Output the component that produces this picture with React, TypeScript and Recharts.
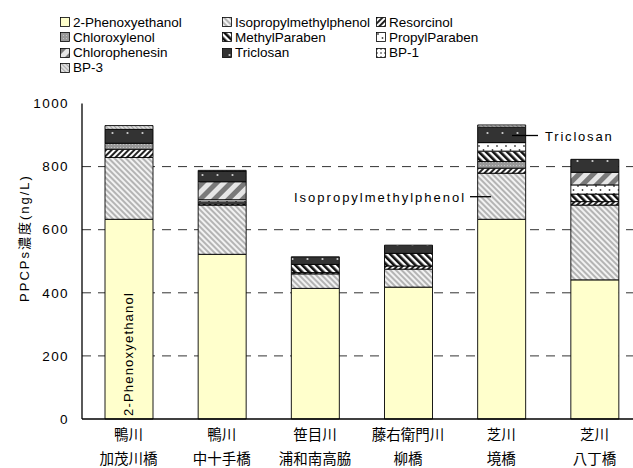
import React from 'react';
import { BarChart, Bar, XAxis, YAxis, CartesianGrid, Legend } from 'recharts';

const rivers = ['鴨川', '鴨川', '笹目川', '藤右衛門川', '芝川', '芝川'];
const sites = ['加茂川橋', '中十手橋', '浦和南高脇', '柳橋', '境橋', '八丁橋'];

const seriesNames = [
  '2-Phenoxyethanol',
  'Isopropylmethylphenol',
  'Resorcinol',
  'Chloroxylenol',
  'MethylParaben',
  'PropylParaben',
  'Chlorophenesin',
  'Triclosan',
  'BP-1',
  'BP-3',
];

const phenoxyethanol = [633, 522, 414, 418, 633, 441];
const isopropylmethylphenol = [196, 156, 46, 57, 146, 237];
const resorcinol = [26, 4, 4, 10, 16, 11];
const chloroxylenol = [19, 6, 0, 0, 21, 0];
const methylParaben = [0, 0, 26, 40, 33, 24];
const propylParaben = [0, 7, 0, 0, 27, 29];
const chlorophenesin = [0, 57, 0, 0, 0, 40];
const triclosan = [44, 33, 24, 26, 49, 41];
const bp1 = [0, 0, 0, 0, 0, 0];
const bp3 = [12, 3, 0, 0, 7, 0];

const yTicks = [0, 200, 400, 600, 800, 1000];
const gridValues = [200, 400, 600, 800];

const seriesKeys = ['s0', 's1', 's2', 's3', 's4', 's5', 's6', 's7', 's8', 's9'];
const seriesValues = [
  phenoxyethanol,
  isopropylmethylphenol,
  resorcinol,
  chloroxylenol,
  methylParaben,
  propylParaben,
  chlorophenesin,
  triclosan,
  bp1,
  bp3,
];
const fills = [
  '#FFFFCC',
  'url(#pIso)',
  'url(#pRes)',
  'url(#pChx)',
  'url(#pMeth)',
  'url(#pProp)',
  'url(#pChp)',
  'url(#pTri)',
  'url(#pBp1)',
  'url(#pBp3)',
];

const data = sites.map((s, i) => {
  const row: any = { site: s, river: rivers[i] };
  seriesKeys.forEach((k, j) => {
    row[k] = seriesValues[j][i];
  });
  return row;
});

const LATIN = "'Liberation Sans', Arial, 'Noto Sans CJK JP', sans-serif";
const CJK = "'Noto Sans CJK JP', 'Liberation Sans', sans-serif";

const XTick = (props: any) => {
  const { x, y, payload } = props;
  const i = payload.index;
  return (
    <g>
      <text x={x} y={y} dy={20.5} textAnchor="middle" fontFamily={CJK} fontSize={14.5} fill="#000">
        {rivers[i]}
      </text>
      <text x={x} y={y} dy={45} textAnchor="middle" fontFamily={CJK} fontSize={14.5} fill="#000">
        {sites[i]}
      </text>
    </g>
  );
};

const renderLegend = () => {
  const colX = [60, 222, 376];
  return (
    <div style={{ position: 'relative', width: 633, height: 0 }}>
      {seriesNames.map((n, i) => {
        const col = i % 3;
        const row = Math.floor(i / 3);
        const cy = 22 + row * 15.3;
        return (
          <div
            key={n}
            style={{
              position: 'absolute',
              left: colX[col],
              top: cy - 8,
              height: 16,
              display: 'flex',
              alignItems: 'center',
              whiteSpace: 'nowrap',
              fontFamily: LATIN,
              fontSize: 13.5,
              color: '#000',
            }}
          >
            <svg width={10} height={10} style={{ marginRight: 3 }}>
              <rect x={0.5} y={0.5} width={9} height={9} fill={fills[i]} stroke="#000" strokeWidth={0.8} />
            </svg>
            <span>{n}</span>
          </div>
        );
      })}
    </div>
  );
};

const Overlay = () => (
  <svg
    width={633}
    height={468}
    style={{ position: 'absolute', left: 0, top: 0, pointerEvents: 'none' }}
  >
    <g fontFamily={LATIN} fontSize={13} fill="#000">
      <text
        x={128}
        y={354}
        transform="rotate(-90 128 354)"
        textAnchor="middle"
        dominantBaseline="central"
        letterSpacing={1.2}
      >
        2-Phenoxyethanol
      </text>
      <text x={294} y={201.5} letterSpacing={2}>
        Isopropylmethylphenol
      </text>
      <line x1={470} y1={196.7} x2={491} y2={196.7} stroke="#000" strokeWidth={1.3} />
      <text x={545} y={140.5} letterSpacing={1.8}>
        Triclosan
      </text>
      <line x1={512} y1={135.5} x2={538} y2={135.5} stroke="#000" strokeWidth={1.3} />
      <text
        x={24}
        y={238}
        transform="rotate(-90 24 238)"
        textAnchor="middle"
        dominantBaseline="central"
        letterSpacing={2}
        fontSize={13}
      >
        PPCPs濃度(ng/L)
      </text>
    </g>
  </svg>
);

export default function App() {
  return (
    <div style={{ position: 'absolute', left: 0, top: 0, width: 633, height: 468, overflow: 'hidden', background: '#fff' }}>
      <BarChart
        width={650}
        height={468}
        data={data}
        margin={{ top: 103.5, right: 9, bottom: 0, left: 22 }}
        barSize={48}
      >
        <defs>
          <pattern id="pIso" patternUnits="userSpaceOnUse" width="4" height="4" patternTransform="rotate(-45)">
            <rect width="4" height="4" fill="#f2f2f2" />
            <rect width="2" height="4" fill="#b4b4b4" />
          </pattern>
          <pattern id="pRes" patternUnits="userSpaceOnUse" width="4" height="4" patternTransform="rotate(45)">
            <rect width="4" height="4" fill="#ffffff" />
            <rect width="2" height="4" fill="#222" />
          </pattern>
          <pattern id="pChx" patternUnits="userSpaceOnUse" width="3" height="3">
            <rect width="3" height="3" fill="#999" />
            <rect width="1" height="1" fill="#c4c4c4" />
          </pattern>
          <pattern id="pMeth" patternUnits="userSpaceOnUse" width="5" height="5" patternTransform="rotate(-45)">
            <rect width="5" height="5" fill="#ffffff" />
            <rect width="2.6" height="5" fill="#111" />
          </pattern>
          <pattern id="pProp" patternUnits="userSpaceOnUse" width="9" height="8">
            <rect width="9" height="8" fill="#ffffff" />
            <circle cx="2" cy="2" r="0.9" fill="#444" />
            <circle cx="6.5" cy="6" r="0.9" fill="#444" />
          </pattern>
          <pattern id="pChp" patternUnits="userSpaceOnUse" width="10" height="10" patternTransform="rotate(45)">
            <rect width="10" height="10" fill="#e6e6e6" />
            <rect width="5" height="10" fill="#7a7a7a" />
          </pattern>
          <pattern id="pTri" patternUnits="userSpaceOnUse" width="15" height="14">
            <rect width="15" height="14" fill="#333" />
            <circle cx="7.5" cy="7" r="1.1" fill="#d0d0d0" />
          </pattern>
          <pattern id="pBp1" patternUnits="userSpaceOnUse" width="4" height="4">
            <rect width="4" height="4" fill="#fff" />
            <rect width="2" height="2" fill="#999" />
          </pattern>
          <pattern id="pBp3" patternUnits="userSpaceOnUse" width="3" height="3" patternTransform="rotate(-45)">
            <rect width="3" height="3" fill="#e4e4e4" />
            <rect width="1.2" height="3" fill="#a8a8a8" />
          </pattern>
        </defs>
        <CartesianGrid
          vertical={false}
          horizontalValues={gridValues}
          stroke="#333"
          strokeDasharray="9 7"
        />
        <XAxis
          dataKey="site"
          height={49}
          axisLine={{ stroke: '#000', strokeWidth: 1.3 }}
          tickLine={false}
          tickSize={0}
          tickMargin={0}
          tick={<XTick />}
          interval={0}
        />
        <YAxis
          width={60}
          domain={[0, 1000]}
          ticks={yTicks}
          axisLine={{ stroke: '#000', strokeWidth: 1.3 }}
          tickLine={false}
          tickSize={6}
          tickMargin={7}
          tick={{ fontFamily: LATIN, fontSize: 13.5, fill: '#000', letterSpacing: 1.4 }}
        />
        <Legend
          verticalAlign="top"
          content={renderLegend}
          wrapperStyle={{ top: 0, left: 0, width: 633, height: 0 }}
        />
        {seriesKeys.map((k, j) => (
          <Bar
            key={k}
            dataKey={k}
            name={seriesNames[j]}
            stackId="a"
            fill={fills[j]}
            stroke="#000"
            strokeWidth={0.9}
            isAnimationActive={false}
          />
        ))}
      </BarChart>
      <Overlay />
    </div>
  );
}
